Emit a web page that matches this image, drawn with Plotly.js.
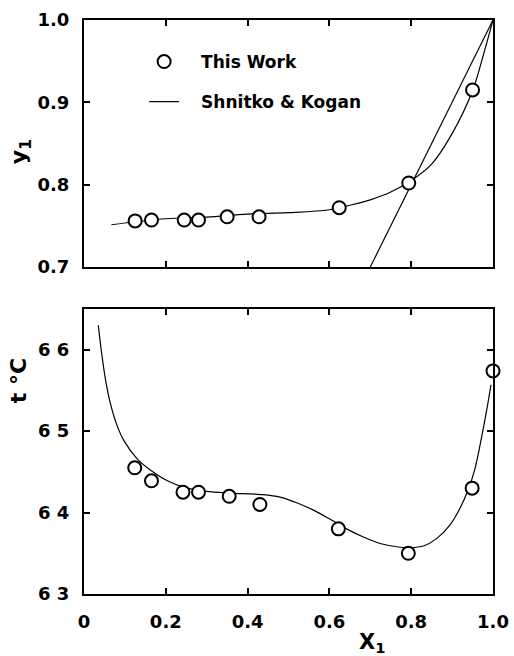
<!DOCTYPE html>
<html>
<head>
<meta charset="utf-8">
<script src="https://cdn.plot.ly/plotly-3.0.1.min.js"></script>
<style>html,body{margin:0;padding:0;background:#fff;}#chart{width:514px;height:656px;}</style>
</head>
<body>
<div id="chart"></div>
<script>
// Experimental points (This Work)
const xExp = [0.125, 0.165, 0.245, 0.28, 0.35, 0.428, 0.624, 0.794, 0.95];
const yExp = [0.756, 0.757, 0.757, 0.757, 0.761, 0.761, 0.772, 0.802, 0.915];
const xExpT = [0.124, 0.165, 0.242, 0.28, 0.355, 0.43, 0.622, 0.793, 0.949, 1.0];
const tExp = [64.55, 64.39, 64.25, 64.25, 64.20, 64.10, 63.80, 63.50, 64.30, 65.74];

// Shnitko & Kogan curves
const xCurveY = [0.067, 0.2, 0.3, 0.4, 0.5, 0.6, 0.65, 0.7, 0.75, 0.8, 0.85, 0.9, 0.95, 0.975, 1.0];
const yCurveY = [0.7513, 0.7586, 0.7606, 0.7643, 0.766, 0.7695, 0.775, 0.7816, 0.791, 0.805, 0.825, 0.862, 0.914, 0.955, 1.0];
const xDiag = [0.7, 1.0];
const yDiag = [0.7, 1.0];
const xCurveT = [0.035, 0.042, 0.053, 0.064, 0.08, 0.098, 0.13, 0.163, 0.204, 0.245, 0.3, 0.357, 0.438, 0.479, 0.52, 0.561, 0.601, 0.642, 0.683, 0.724, 0.764, 0.797, 0.83, 0.862, 0.895, 0.919, 0.94, 0.956, 0.968, 0.985, 0.995];
const tCurveT = [66.30, 66.0, 65.62, 65.35, 65.08, 64.88, 64.66, 64.52, 64.39, 64.31, 64.26, 64.24, 64.22, 64.19, 64.12, 64.03, 63.92, 63.80, 63.70, 63.62, 63.58, 63.57, 63.59, 63.68, 63.85, 64.05, 64.29, 64.54, 64.82, 65.27, 65.57];

// Tick labels
const yTickVals = [0.7, 0.8, 0.9, 1.0];
const yTickText = ['0.7', '0.8', '0.9', '1.0'];
const tTickVals = [63, 64, 65, 66];
const tTickText = ['6 3', '6 4', '6 5', '6 6'];
const xTickVals = [0, 0.2, 0.4, 0.6, 0.8, 1.0];
const xTickText = ['0', '0.2', '0.4', '0.6', '0.8', '1.0'];

const FONT = {family: 'DejaVu Sans', color: '#000', weight: 'bold'};
const mk = {symbol: 'circle', size: 13, color: '#fff', line: {color: '#000', width: 2}};

const traces = [
  {x: xCurveY, y: yCurveY, mode: 'lines', line: {color: '#000', width: 1.2, shape: 'spline'},
   name: '\u2003Shnitko & Kogan', legend: 'legend2', showlegend: true, xaxis: 'x', yaxis: 'y'},
  {x: xDiag, y: yDiag, mode: 'lines', line: {color: '#000', width: 1.2}, showlegend: false, xaxis: 'x', yaxis: 'y'},
  {x: xExp, y: yExp, mode: 'markers', marker: mk, name: '\u2003This Work', legend: 'legend', showlegend: true, xaxis: 'x', yaxis: 'y'},
  {x: xCurveT, y: tCurveT, mode: 'lines', line: {color: '#000', width: 1.2, shape: 'spline', smoothing: 0.8}, showlegend: false, xaxis: 'x2', yaxis: 'y2'},
  {x: xExpT, y: tExp, mode: 'markers', marker: mk, showlegend: false, xaxis: 'x2', yaxis: 'y2', cliponaxis: false}
];

const axCommon = {showgrid: false, zeroline: false, showline: true, linecolor: '#000', linewidth: 2,
  mirror: 'ticks', ticks: 'inside', ticklen: 6, tickwidth: 2, tickcolor: '#000',
  tickfont: Object.assign({size: 18}, FONT)};

const layout = {
  width: 514, height: 656,
  margin: {l: 84, r: 21, t: 20, b: 62},
  paper_bgcolor: '#fff', plot_bgcolor: '#fff',
  font: FONT,
  xaxis: Object.assign({}, axCommon, {range: [0, 1], anchor: 'y', tickvals: xTickVals, showticklabels: false}),
  yaxis: Object.assign({}, axCommon, {range: [0.7, 1.0], domain: [0.5697, 1], anchor: 'x',
    tickvals: yTickVals, ticktext: yTickText, ticklabelstandoff: 9}),
  xaxis2: Object.assign({}, axCommon, {range: [0, 1], anchor: 'y2', tickvals: xTickVals, ticktext: xTickText, ticklabelstandoff: 10}),
  yaxis2: Object.assign({}, axCommon, {range: [63, 66.5], domain: [0, 0.4965], anchor: 'x2',
    tickvals: tTickVals, ticktext: tTickText, ticklabelstandoff: 9}),
  legend: {x: 0.147, y: 0.9268, xanchor: 'left', yanchor: 'middle', bgcolor: 'rgba(0,0,0,0)',
    font: Object.assign({size: 17}, FONT), itemsizing: 'trace'},
  legend2: {x: 0.147, y: 0.857, xanchor: 'left', yanchor: 'middle', bgcolor: 'rgba(0,0,0,0)',
    font: Object.assign({size: 17}, FONT)},
  annotations: [
    {text: 'y<sub>1</sub>', xref: 'paper', yref: 'paper', x: -0.156, y: 0.770, textangle: -90,
     xanchor: 'center', yanchor: 'middle', showarrow: false, font: Object.assign({size: 22}, FONT)},
    {text: 't \u00b0C', xref: 'paper', yref: 'paper', x: -0.161, y: 0.371, textangle: -90,
     xanchor: 'center', yanchor: 'middle', showarrow: false, font: Object.assign({size: 22}, FONT)},
    {text: 'X<sub>1</sub>', xref: 'paper', yref: 'paper', x: 0.704, y: -0.0854,
     xanchor: 'center', yanchor: 'middle', showarrow: false, font: Object.assign({size: 21}, FONT)}
  ]
};

Plotly.newPlot('chart', traces, layout, {displayModeBar: false, staticPlot: true});
</script>
</body>
</html>
